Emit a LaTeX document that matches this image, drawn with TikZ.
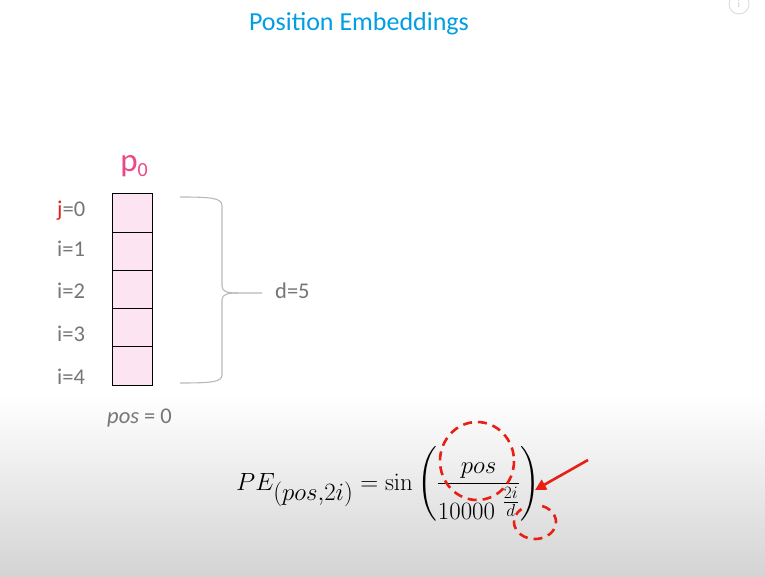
\documentclass[tikz,border=0pt]{standalone}
\usepackage{amsmath}
\usepackage[no-math]{fontspec}
\setmainfont{Carlito}
\usetikzlibrary{positioning,calc,arrows.meta}

\definecolor{titleblue}{RGB}{0,158,226}
\definecolor{pinkfill}{RGB}{253,228,242}
\definecolor{pinktext}{RGB}{236,72,134}
\definecolor{labelgray}{RGB}{118,118,118}
\definecolor{bracegray}{RGB}{185,185,185}
\definecolor{markred}{RGB}{232,32,20}

\begin{document}
\begin{tikzpicture}[x=1pt,y=-1pt,
		cell/.style={draw=black,fill=pinkfill,line width=1pt,minimum width=40pt,minimum height=38.2pt,inner sep=0pt},
		rowlab/.style={text=labelgray,font=\fontsize{22.5}{26}\selectfont,anchor=base west,inner sep=0pt},
		redmark/.style={draw=markred,line width=2.6pt,dash pattern=on 9pt off 6pt}]
			\clip (0,0) rectangle (765,577);
			\fill[white] (0,0) rectangle (765,577);
			\shade[top color=white,bottom color=black!17] (0,395) rectangle (765,577);
			% title and info mark
			\node[text=titleblue,font=\fontsize{26}{30}\selectfont,anchor=base] (title) at (359,31) {Position Embeddings};
			\node[circle,draw=black!15,line width=0.8pt,minimum size=20pt,inner sep=0pt,text=black!22,font=\sffamily\fontsize{11}{12}\selectfont] (info) at (739,4) {i};
			% the vector p0
			\node[text=pinktext,font=\fontsize{33}{36}\selectfont,anchor=base] (p0) at (134,172) {p\raisebox{-5pt}{\fontsize{20}{21}\selectfont 0}};
			\foreach \i in {0,...,4}
				\node[cell] (c\i) at (132,{194+38.2*\i+19.1}) {};
			\node[rowlab] (l0) at (57,217) {{\color{markred}j}=0};
			\foreach \i/\y in {1/257,2/298,3/341,4/384}
				\node[rowlab] (l\i) at (57,\y) {i=\i};
			% brace
			\draw[bracegray,line width=1.1pt] (180,197) .. controls (212,197) and (222,198) .. (222,206) -- (222,286)
				.. controls (222,292) and (228,293) .. (238,293) -- (262,293);
			\draw[bracegray,line width=1.1pt] (238,293) .. controls (228,293) and (222,294) .. (222,300) -- (222,375)
				.. controls (222,382) and (212,383) .. (180,383);
			\node[rowlab] (dlab) at (275,298) {d=5};
			\node[rowlab] (posl) at (107,423) {\textit{pos} = 0};
			% formula
			\node[anchor=base west,inner sep=0pt,font=\fontsize{34}{40}\selectfont] (pe) at (236,490)
				{$\displaystyle PE_{(pos,2i)} = \sin\left(\frac{pos}{10000\ {}^{\frac{2i}{d}}}\right)$};
			\draw[redmark] (477,461) ellipse (37 and 39);
			\draw[redmark] (535,522) ++(290:21 and 17) arc (290:590:21 and 17);
			\coordinate (atail) at (588,460);
			\coordinate (ahead) at (535,490);
			\draw[markred,line width=2.6pt,-{Triangle[length=11pt,width=11pt]}] (atail) -- (ahead);
\end{tikzpicture}
\end{document}
